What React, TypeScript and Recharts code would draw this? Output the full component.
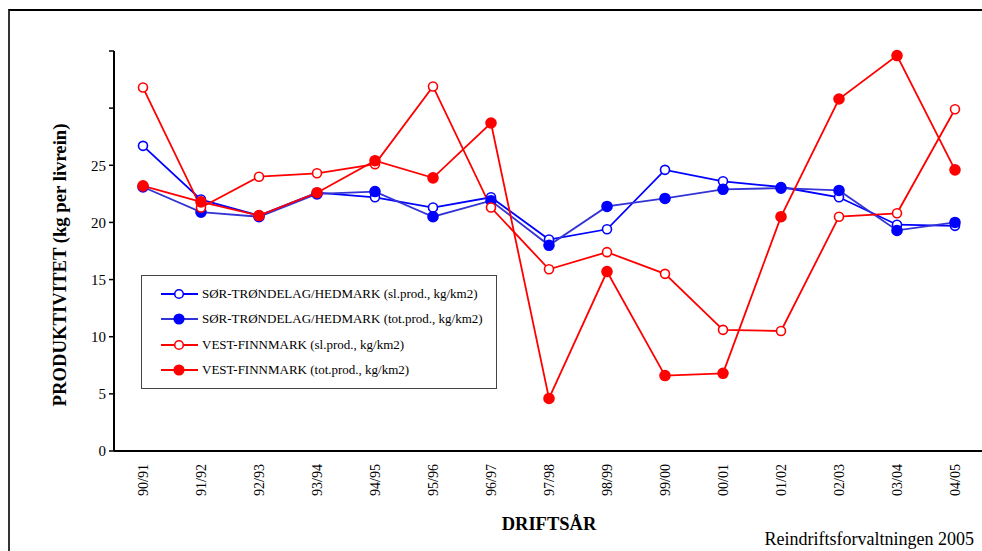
import { Label, Legend, Line, LineChart, XAxis, YAxis } from "recharts";

const seasons = [
	"90/91", "91/92", "92/93", "93/94", "94/95", "95/96", "96/97", "97/98",
	"98/99", "99/00", "00/01", "01/02", "02/03", "03/04", "04/05",
];

// SØR-TRØNDELAG/HEDMARK
const sorSl = [26.7, 22.0, 20.6, 22.6, 22.2, 21.3, 22.2, 18.5, 19.4, 24.6, 23.6, 23.1, 22.2, 19.8, 19.7];
const sorTot = [23.1, 20.9, 20.5, 22.5, 22.7, 20.5, 21.9, 18.0, 21.4, 22.1, 22.9, 23.0, 22.8, 19.3, 20.0];

// VEST-FINNMARK
const vestSl = [31.8, 21.3, 24.0, 24.3, 25.1, 31.9, 21.3, 15.9, 17.4, 15.5, 10.6, 10.5, 20.5, 20.8, 29.9];
const vestTot = [23.2, 21.8, 20.6, 22.6, 25.4, 23.9, 28.7, 4.6, 15.7, 6.6, 6.8, 20.5, 30.8, 34.6, 24.6];

const yTicks = [0, 5, 10, 15, 20, 25, 30, 35];
const boundaryTicks = seasons.map((_, i) => i - 0.5).concat(seasons.length - 0.5);

const data = seasons.map((s, i) => ({
	idx: i,
	season: s,
	sorSl: sorSl[i],
	sorTot: sorTot[i],
	vestSl: vestSl[i],
	vestTot: vestTot[i],
}));

const SERIES = [
	{ key: "sorSl", name: "SØR-TRØNDELAG/HEDMARK (sl.prod., kg/km2)", line: "#0000FF", dot: "#0000FF", open: true },
	{ key: "sorTot", name: "SØR-TRØNDELAG/HEDMARK (tot.prod., kg/km2)", line: "#3333D6", dot: "#0000FF", open: false },
	{ key: "vestSl", name: "VEST-FINNMARK (sl.prod., kg/km2)", line: "#FF0000", dot: "#FF0000", open: true },
	{ key: "vestTot", name: "VEST-FINNMARK (tot.prod., kg/km2)", line: "#FF0000", dot: "#FF0000", open: false },
];

const FONT = "'Liberation Serif', 'Times New Roman', serif";

function SeasonTick({ x, y, payload }: any) {
	return (
		<g transform={`translate(${x},${y})`}>
			<text
				transform="rotate(-90)"
				x={-13}
				y={5}
				textAnchor="end"
				fontFamily={FONT}
				fontSize={14}
				fill="#000"
			>
				{seasons[payload.value]}
			</text>
		</g>
	);
}

function LegendBox({ payload }: any) {
	return (
		<div
			style={{
				border: "1.5px solid #444",
				background: "#fff",
				padding: "5px 0 5px 19px",
				fontFamily: FONT,
				fontSize: 13,
				boxSizing: "border-box",
				width: 356,
			}}
		>
			{(payload || []).map((entry: any) => {
				const s = SERIES.find((d) => d.key === entry.dataKey);
				if (!s) return null;
				return (
					<div key={s.key} style={{ display: "flex", alignItems: "center", height: 25.5 }}>
						<svg width={38} height={12} style={{ marginRight: 3 }}>
							<line x1={0} y1={6} x2={37} y2={6} stroke={s.line} strokeWidth={1.8} />
							<circle
								cx={18}
								cy={6}
								r={s.open ? 4.3 : 4.8}
								fill={s.open ? "#fff" : s.dot}
								stroke={s.dot}
								strokeWidth={1.6}
							/>
						</svg>
						<span>{s.name}</span>
					</div>
				);
			})}
		</div>
	);
}

export default function App() {
	return (
		<div
			style={{
				position: "absolute",
				left: 0,
				top: 0,
				width: 982,
				height: 551,
				overflow: "hidden",
				background: "#fff",
			}}
		>
			<div
				style={{
					position: "absolute",
					left: 8,
					top: 9,
					width: 1100,
					height: 700,
					borderTop: "2px solid #000",
					borderLeft: "2px solid #333",
				}}
			/>
			<LineChart
				width={984}
				height={551}
				data={data}
				margin={{ top: 51, right: 0, bottom: 0, left: 0 }}
			>
				<XAxis
					xAxisId="bounds"
					dataKey="idx"
					type="number"
					domain={[-0.5, 14.5]}
					ticks={boundaryTicks}
					interval={0}
					height={0}
					axisLine={false}
					tickLine={{ stroke: "#000", strokeWidth: 1.5 }}
					tickSize={5}
					tickFormatter={() => ""}
				/>
				<XAxis
					dataKey="idx"
					type="number"
					domain={[-0.5, 14.5]}
					ticks={seasons.map((_, i) => i)}
					interval={0}
					height={100}
					axisLine={{ stroke: "#000", strokeWidth: 2 }}
					tickLine={false}
					tickSize={0}
					tickMargin={0}
					tick={<SeasonTick />}
				>
					<Label
						content={({ viewBox }: any) => (
							<text
								x={viewBox.x + viewBox.width / 2}
								y={viewBox.y + 79}
								textAnchor="middle"
								fontFamily={FONT}
								fontSize={18.5}
								fontWeight="bold"
								fill="#000"
							>
								DRIFTSÅR
							</text>
						)}
					/>
				</XAxis>
				<YAxis
					type="number"
					domain={[0, 35]}
					ticks={yTicks}
					interval={0}
					width={114}
					axisLine={{ stroke: "#000", strokeWidth: 2 }}
					tickLine={{ stroke: "#000", strokeWidth: 1.5 }}
					tickSize={5}
					tickMargin={3}
					tick={{ fontFamily: FONT, fontSize: 15, fill: "#000" }}
					tickFormatter={(v: number) => (v <= 25 ? String(v) : "")}
				>
					<Label
						content={({ viewBox }: any) => {
							const cx = viewBox.x + 59;
							const cy = viewBox.y + viewBox.height / 2 + 14;
							return (
								<text
									x={cx}
									y={cy}
									transform={`rotate(-90, ${cx}, ${cy})`}
									textAnchor="middle"
									dominantBaseline="central"
									fontFamily={FONT}
									fontSize={18.7}
									fontWeight="bold"
									fill="#000"
								>
									PRODUKTIVITET (kg per livrein)
								</text>
							);
						}}
					/>
				</YAxis>
				<Legend
					layout="vertical"
					align="center"
					verticalAlign="middle"
					content={<LegendBox />}
					wrapperStyle={{ left: 141, top: 275, width: 356 }}
				/>
				{SERIES.map((s) => (
					<Line
						key={s.key}
						dataKey={s.key}
						name={s.name}
						stroke={s.line}
						strokeWidth={1.8}
						dot={{
							r: s.open ? 4.5 : 5,
							fill: s.open ? "#fff" : s.dot,
							stroke: s.dot,
							strokeWidth: 1.6,
						}}
						activeDot={false}
						isAnimationActive={false}
					/>
				))}
			</LineChart>
			<div
				style={{
					position: "absolute",
					right: 8,
					top: 529,
					fontFamily: FONT,
					fontSize: 18,
					lineHeight: "20px",
					color: "#000",
				}}
			>
				Reindriftsforvaltningen 2005
			</div>
		</div>
	);
}
